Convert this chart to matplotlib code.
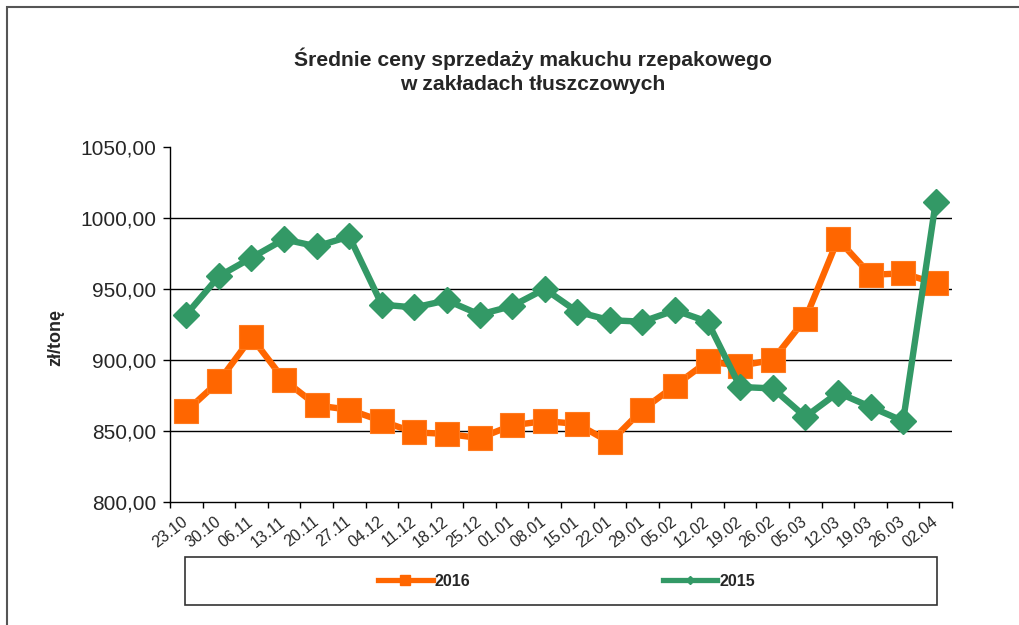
import matplotlib.pyplot as plt
from matplotlib.lines import Line2D
from matplotlib.patches import Rectangle
from matplotlib.ticker import FuncFormatter

plt.rcParams['font.family'] = ['Liberation Sans', 'DejaVu Sans']

### data
daty = ['23.10', '30.10', '06.11', '13.11', '20.11', '27.11', '04.12', '11.12',
        '18.12', '25.12', '01.01', '08.01', '15.01', '22.01', '29.01', '05.02',
        '12.02', '19.02', '26.02', '05.03', '12.03', '19.03', '26.03', '02.04']
ceny_2016 = [864, 885, 916, 886, 868, 865, 857, 849, 848, 845, 854, 857,
             855, 842, 865, 882, 899, 896, 900, 929, 985, 960, 961, 954]
ceny_2015 = [932, 959, 972, 985, 980, 987, 939, 937, 942, 932, 938, 950,
             934, 928, 927, 935, 927, 881, 880, 860, 877, 867, 857, 1011]

kol_2016 = '#ff6600'
kol_2015 = '#339966'
txt = '#262626'

fig = plt.figure(figsize=(10.2, 6.25), dpi=100)
ax = fig.add_axes([0.1667, 0.1968, 0.7666, 0.568])

x = list(range(len(daty)))
ax.plot(x, ceny_2016, color=kol_2016, lw=4.6, marker='s', markersize=17.5,
        markeredgecolor='#ff7a1f', markeredgewidth=0.8, solid_joinstyle='miter')
ax.plot(x, ceny_2015, color=kol_2015, lw=4.6, marker='D', markersize=13,
        markeredgecolor=kol_2015, solid_joinstyle='miter')

### axes
ax.set_xlim(-0.5, len(daty) - 0.5)
ax.set_ylim(800, 1050)
ax.set_yticks([800, 850, 900, 950, 1000, 1050])
ax.yaxis.set_major_formatter(FuncFormatter(lambda v, p: f'{v:.2f}'.replace('.', ',')))
for yv in [850, 900, 950, 1000]:
    ax.axhline(yv, color='black', lw=1.0, zorder=0)

ax.set_xticks(x)
ax.set_xticklabels(daty, rotation=38, ha='right', va='center',
                   rotation_mode='anchor', fontsize=11.5, color=txt)
ax.set_xticks([i - 0.5 for i in range(len(daty) + 1)], minor=True)
ax.tick_params(axis='x', which='major', length=0, pad=13)
ax.tick_params(axis='x', which='minor', length=4, width=1, direction='out')
ax.tick_params(axis='y', length=5, width=1, direction='out', pad=5,
               labelsize=15, labelcolor=txt)
for lab in ax.get_xticklabels():
    lab.set_x(lab.get_position()[0])

for s in ['top', 'right']:
    ax.spines[s].set_visible(False)
for s in ['left', 'bottom']:
    ax.spines[s].set_color('black')
    ax.spines[s].set_linewidth(1.0)

### title and y label
fig.text(0.5225, 1 - 71 / 625,
         'Średnie ceny sprzedaży makuchu rzepakowego\nw zakładach tłuszczowych',
         ha='center', va='center', fontsize=15.2, fontweight='bold',
         color=txt, linespacing=1.3)
fig.text(0.055, 1 - 338 / 625, 'zł/tonę', rotation=90, ha='center',
         va='center', fontsize=13, fontweight='bold', color=txt)

### legend box
fig.patches.append(Rectangle((185 / 1020, 20 / 625), 752 / 1020, 48 / 625,
                             transform=fig.transFigure, fill=False,
                             edgecolor='#333333', lw=1.2))
uchwyty = [Line2D([], [], color=kol_2016, lw=3.8, marker='s', markersize=7),
           Line2D([], [], color=kol_2015, lw=3.8, marker='D', markersize=4.5)]
fig.legend(uchwyty, ['2016', '2015'], loc='center', ncol=2,
           bbox_to_anchor=(0.5554, 1 - 581 / 625), frameon=False,
           handlelength=3.4, handletextpad=0.1, columnspacing=12.1,
           prop={'weight': 'bold', 'size': 11.5}, labelcolor=txt)

### outer border
fig.patches.append(Rectangle((7 / 1020, -0.1), 1.2, 1.1 - 7 / 625,
                             transform=fig.transFigure, fill=False,
                             edgecolor='#555555', lw=1.5))

plt.savefig('out.png', dpi=100)
